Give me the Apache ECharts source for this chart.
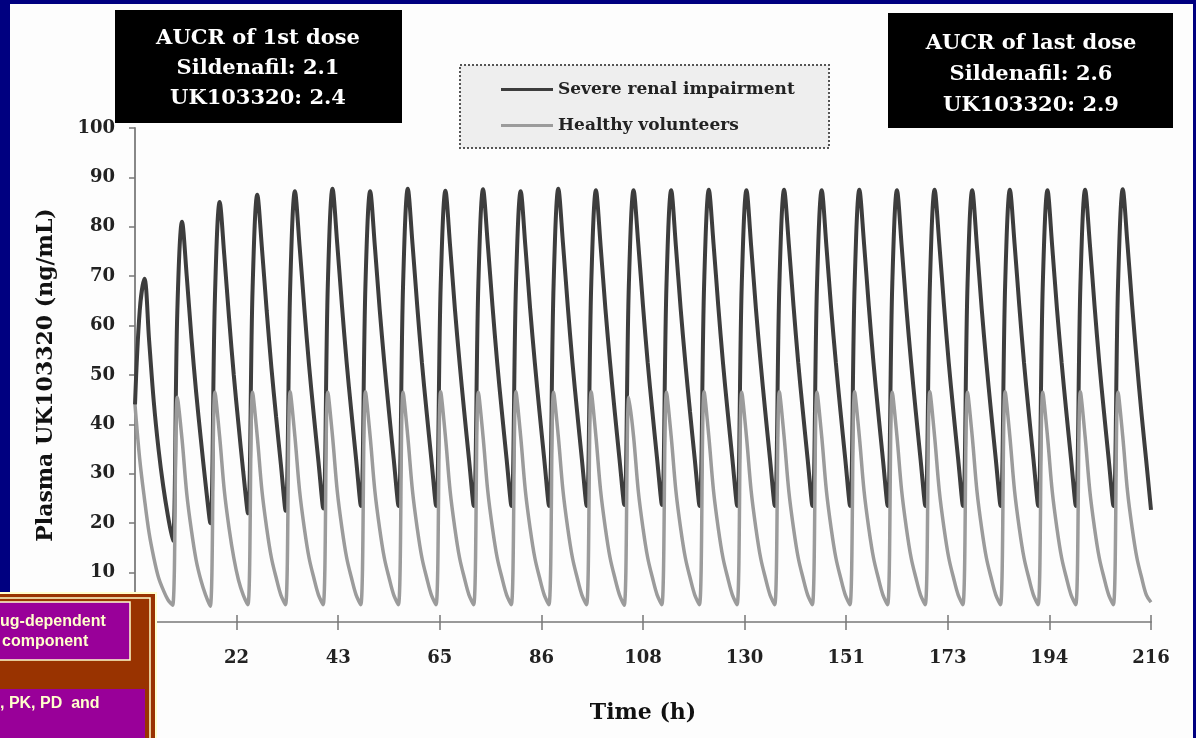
<!DOCTYPE html>
<html>
<head>
<meta charset="utf-8">
<script src="https://cdn.jsdelivr.net/npm/echarts@6/dist/echarts.min.js"></script>
<style>
  html, body { margin: 0; padding: 0; background: #000080; }
  #panel { position: absolute; left: 10px; top: 4px; width: 1183px; height: 734px; background: #fdfdfd; }
  #chart { position: absolute; left: 0; top: 0; width: 1196px; height: 738px; }
</style>
</head>
<body>
<div id="panel"></div>
<div id="chart"></div>
<script>
// one value per hour, one row per 8 h dosing interval (t = 0 .. 216)
var severeRenal = [
  44, 63, 69.5, 57, 44.5, 35, 27.5, 21.5,
  16.5, 63, 81, 70, 57.5, 46.5, 37, 28,
  20, 66, 85, 74, 61.5, 50, 40, 30.5,
  22, 67.5, 86.5, 75.5, 63, 51.5, 41.5, 32,
  22.5, 68, 87.2, 76, 63.5, 52, 42, 32.5,
  23, 68.5, 87.7, 76.5, 64, 52.5, 42.5, 33,
  23.5, 68.5, 87.2, 76, 63.5, 52.5, 42.5, 33,
  23.5, 68.5, 87.7, 76.5, 64, 52.5, 42.5, 33,
  23.5, 68.5, 87.3, 76, 63.5, 52.5, 42.5, 33,
  23.5, 68.5, 87.6, 76.5, 64, 52.5, 42.5, 33,
  23.5, 68.5, 87.2, 76, 63.5, 52.5, 42.5, 33,
  23.5, 68.5, 87.7, 76.5, 64, 52.5, 42.5, 33,
  23.5, 68.5, 87.4, 76, 63.5, 52.5, 42.5, 33,
  23.7, 68.5, 87.4, 76.5, 64, 52.5, 42.5, 33,
  23.7, 68.5, 87.4, 76, 63.5, 52.5, 42.5, 33,
  23.5, 68.5, 87.5, 76.5, 64, 52.5, 42.5, 33,
  23.5, 68.5, 87.4, 76, 63.5, 52.5, 42.5, 33,
  23.5, 68.5, 87.5, 76.5, 64, 52.5, 42.5, 33,
  23.5, 68.5, 87.4, 76, 63.5, 52.5, 42.5, 33,
  23.5, 68.5, 87.5, 76.5, 64, 52.5, 42.5, 33,
  23.5, 68.5, 87.4, 76, 63.5, 52.5, 42.5, 33,
  23.5, 68.5, 87.5, 76.5, 64, 52.5, 42.5, 33,
  23.5, 68.5, 87.4, 76, 63.5, 52.5, 42.5, 33,
  23.5, 68.5, 87.5, 76.5, 64, 52.5, 42.5, 33,
  23.5, 68.5, 87.4, 76, 63.5, 52.5, 42.5, 33,
  23.5, 68.5, 87.5, 76.5, 64, 52.5, 42.5, 33,
  23.5, 68.5, 87.6, 76.5, 64, 52.5, 42, 32.5,
  22.7
];

var healthy = [
  44, 33, 25, 18, 13, 9, 6.5, 4.5,
  3.4, 45.5, 37, 26, 18.5, 12.5, 8.5, 5.5,
  3.2, 46.5, 37.5, 26.5, 19, 13, 8.5, 5.5,
  3.5, 46.5, 37.5, 26.5, 19, 13, 9, 5.5,
  3.5, 46.6, 37.5, 26.5, 19, 13, 9, 5.5,
  3.5, 46.5, 37.5, 26.5, 19, 13, 9, 5.5,
  3.5, 46.6, 37.5, 26.5, 19, 13, 9, 5.5,
  3.5, 46.5, 37.5, 26.5, 19, 13, 9, 5.5,
  3.5, 46.6, 37.5, 26.5, 19, 13, 9, 5.5,
  3.5, 46.5, 37.5, 26.5, 19, 13, 9, 5.5,
  3.5, 46.6, 37.5, 26.5, 19, 13, 9, 5.5,
  3.5, 46.5, 37.5, 26.5, 19, 13, 9, 5.5,
  3.5, 46.6, 37.5, 26.5, 19, 13, 9, 5.5,
  3.4, 45.5, 37.5, 26.5, 19, 13, 9, 5.5,
  3.5, 46.5, 37.5, 26.5, 19, 13, 9, 5.5,
  3.5, 46.6, 37.5, 26.5, 19, 13, 9, 5.5,
  3.5, 46.5, 37.5, 26.5, 19, 13, 9, 5.5,
  3.5, 46.6, 37.5, 26.5, 19, 13, 9, 5.5,
  3.5, 46.5, 37.5, 26.5, 19, 13, 9, 5.5,
  3.5, 46.6, 37.5, 26.5, 19, 13, 9, 5.5,
  3.5, 46.5, 37.5, 26.5, 19, 13, 9, 5.5,
  3.5, 46.6, 37.5, 26.5, 19, 13, 9, 5.5,
  3.5, 46.5, 37.5, 26.5, 19, 13, 9, 5.5,
  3.5, 46.6, 37.5, 26.5, 19, 13, 9, 5.5,
  3.5, 46.5, 37.5, 26.5, 19, 13, 9, 5.5,
  3.5, 46.6, 37.5, 26.5, 19, 13, 9, 5.5,
  3.5, 46.5, 37.5, 26.5, 19, 13, 9, 5.5,
  4
];

var seriesNames = ['Severe renal impairment', 'Healthy volunteers'];
var firstDoseBox = ['AUCR of 1st dose', 'Sildenafil: 2.1', 'UK103320: 2.4'];
var lastDoseBox = ['AUCR of last dose', 'Sildenafil: 2.6', 'UK103320: 2.9'];
var sideNotes = ['ug-dependent', 'component', ', PK, PD  and'];

var xMax = 216;
var xStep = 21.6;

function toPairs(values) {
  var out = [];
  for (var i = 0; i < values.length; i++) {
    out.push([i, values[i]]);
  }
  return out;
}

var serif = 'DejaVu Serif';
var chart = echarts.init(document.getElementById('chart'));

var option = {
  animation: false,
  grid: { left: 135, right: 45, top: 128, bottom: 116 },
  legend: {
    orient: 'vertical',
    left: 496,
    top: 76,
    itemGap: 19,
    itemWidth: 52,
    itemHeight: 3,
    icon: 'rect',
    textStyle: { fontFamily: serif, fontWeight: 'bold', fontSize: 17, color: '#222' },
    data: seriesNames
  },
  xAxis: [{
    type: 'value',
    min: 0,
    max: xMax,
    interval: xStep,
    name: 'Time (h)',
    nameLocation: 'middle',
    nameGap: 80,
    nameTextStyle: { fontFamily: serif, fontWeight: 'bold', fontSize: 22, color: '#111' },
    axisLine: { lineStyle: { color: '#999', width: 2 } },
    axisTick: { length: 8, lineStyle: { color: '#777', width: 1.5 } },
    axisLabel: {
      margin: 27,
      showMinLabel: false,
      fontFamily: serif, fontWeight: 'bold', fontSize: 18, color: '#222',
      formatter: function (v) { return Math.round(v); }
    },
    splitLine: { show: false }
  }, {
    type: 'value',
    min: 0,
    max: xMax,
    interval: xStep,
    position: 'bottom',
    axisLine: { show: false },
    axisTick: { inside: true, length: 7, lineStyle: { color: '#777', width: 1.5 } },
    axisLabel: { show: false },
    splitLine: { show: false }
  }],
  yAxis: {
    type: 'value',
    min: 0,
    max: 100,
    interval: 10,
    name: 'Plasma UK103320 (ng/mL)',
    nameLocation: 'middle',
    nameRotate: 90,
    nameGap: 78,
    nameTextStyle: { fontFamily: serif, fontWeight: 'bold', fontSize: 22, color: '#111' },
    axisLine: { show: true, lineStyle: { color: '#888', width: 2 } },
    axisTick: { show: true, length: 6, lineStyle: { color: '#777', width: 1.5 } },
    axisLabel: {
      margin: 20,
      showMinLabel: false,
      fontFamily: serif, fontWeight: 'bold', fontSize: 18, color: '#222'
    },
    splitLine: { show: false }
  },
  series: [{
    name: seriesNames[0],
    type: 'line',
    xAxisIndex: 0,
    symbol: 'none',
    smooth: 0.35,
    color: '#3d3d3d',
    lineStyle: { width: 4, color: '#3d3d3d' },
    data: toPairs(severeRenal)
  }, {
    name: seriesNames[1],
    type: 'line',
    xAxisIndex: 0,
    symbol: 'none',
    smooth: 0.35,
    color: '#9b9b9b',
    lineStyle: { width: 3.5, color: '#9b9b9b' },
    data: toPairs(healthy)
  }],
  graphic: [
    {
      type: 'rect', z: 1,
      shape: { x: 460, y: 65, width: 369, height: 83 },
      style: { fill: '#eeeeee', stroke: '#555', lineWidth: 2, lineDash: [2, 2] }
    },
    {
      type: 'rect', z: 10,
      shape: { x: 115, y: 10, width: 287, height: 113 },
      style: { fill: '#000' }
    },
    {
      type: 'text', z: 11,
      style: {
        text: firstDoseBox.join('\n'), x: 258, y: 24, textAlign: 'center',
        fill: '#fff', fontFamily: serif, fontWeight: 'bold', fontSize: 21, lineHeight: 30
      }
    },
    {
      type: 'rect', z: 10,
      shape: { x: 888, y: 13, width: 285, height: 115 },
      style: { fill: '#000' }
    },
    {
      type: 'text', z: 11,
      style: {
        text: lastDoseBox.join('\n'), x: 1031, y: 28, textAlign: 'center',
        fill: '#fff', fontFamily: serif, fontWeight: 'bold', fontSize: 21, lineHeight: 31
      }
    },
    {
      type: 'rect', z: 100,
      shape: { x: -5, y: 593, width: 161, height: 150 },
      style: { fill: '#993300', stroke: '#ffffcc', lineWidth: 2 }
    },
    {
      type: 'rect', z: 101,
      shape: { x: -5, y: 598, width: 155, height: 145 },
      style: { fill: 'none', stroke: '#ffffcc', lineWidth: 1.5 }
    },
    {
      type: 'rect', z: 102,
      shape: { x: -5, y: 602, width: 135, height: 58 },
      style: { fill: '#990099', stroke: '#ffffcc', lineWidth: 1.5 }
    },
    {
      type: 'rect', z: 102,
      shape: { x: -5, y: 689, width: 150, height: 55 },
      style: { fill: '#990099' }
    },
    {
      type: 'text', z: 103,
      style: {
        text: sideNotes[0], x: 0, y: 622, textVerticalAlign: 'middle',
        fill: '#ffffcc', fontFamily: 'Liberation Sans', fontWeight: 'bold', fontSize: 16
      }
    },
    {
      type: 'text', z: 103,
      style: {
        text: sideNotes[1], x: 2, y: 642, textVerticalAlign: 'middle',
        fill: '#ffffcc', fontFamily: 'Liberation Sans', fontWeight: 'bold', fontSize: 16
      }
    },
    {
      type: 'text', z: 103,
      style: {
        text: sideNotes[2], x: 0, y: 704, textVerticalAlign: 'middle',
        fill: '#ffffcc', fontFamily: 'Liberation Sans', fontWeight: 'bold', fontSize: 16
      }
    }
  ]
};

chart.setOption(option);
</script>
</body>
</html>
